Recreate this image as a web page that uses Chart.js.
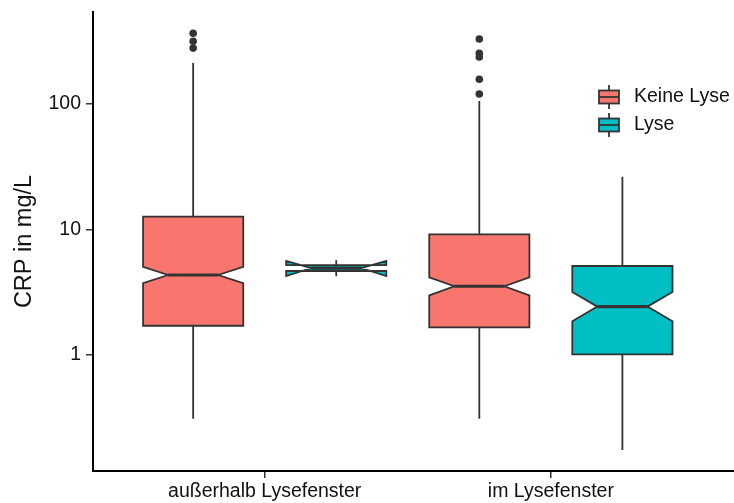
<!DOCTYPE html>
<html>
<head>
<meta charset="utf-8">
<script src="https://cdn.jsdelivr.net/npm/chart.js@4/dist/chart.umd.min.js"></script>
<style>
  html, body { margin: 0; padding: 0; background: #fff; }
  #c { display: block; }
</style>
</head>
<body>
<canvas id="c" width="734" height="503"></canvas>
<script>
// Categories on the x axis and the two groups drawn side by side in each
const categories = ['außerhalb Lysefenster', 'im Lysefenster'];
const seriesNames = ['Keine Lyse', 'Lyse'];
const seriesColors = ['#F8766D', '#00BFC4'];

// Per category: [whisker low, Q1, median, Q3, whisker high] in mg/L
const keineLyseBoxes = [[0.31, 1.71, 4.34, 12.65, 212], [0.31, 1.66, 3.53, 9.16, 105.7]];
const lyseBoxes = [[4.25, 4.67, 4.93, 5.21, 5.7], [0.175, 1.01, 2.43, 5.12, 26.35]];

// Notch limits around the median: [lower, upper]
const keineLyseNotches = [[3.73, 5.05], [2.99, 4.16]];
const lyseNotches = [[4.26, 5.61], [1.856, 3.18]];

// Values beyond the whiskers
const keineLyseOutliers = [[366, 316, 279], [329.6, 253.5, 236.8, 157.4, 120.1]];
const lyseOutliers = [[], []];

const yTicks = [1, 10, 100];

const FONT = '"Liberation Sans", Arial, Helvetica, sans-serif';
const INK = '#333333';
const DODGE = 0.25;      // group offset from category centre
const HALF_BOX = 0.175;  // half box width in category units
const NOTCH = 0.25;      // notch indent as share of box width

const series = [
  { name: seriesNames[0], color: seriesColors[0], boxes: keineLyseBoxes, notches: keineLyseNotches, outliers: keineLyseOutliers, offset: -DODGE },
  { name: seriesNames[1], color: seriesColors[1], boxes: lyseBoxes, notches: lyseNotches, outliers: lyseOutliers, offset: DODGE }
];

const datasets = series.map(s => ({
  label: s.name,
  data: s.outliers.flatMap((vals, i) => vals.map(v => ({ x: i + 1 + s.offset, y: v }))),
  pointRadius: 3.8,
  pointHoverRadius: 3.8,
  backgroundColor: INK,
  borderWidth: 0
}));

// Notched box-and-whisker marks, placed through the chart's scales
const notchedBoxes = {
  id: 'notchedBoxes',
  beforeDatasetsDraw(chart) {
    const { ctx, scales: { x, y } } = chart;
    series.forEach(s => s.boxes.forEach((b, i) => {
      const c = i + 1 + s.offset;
      const x0 = x.getPixelForValue(c - HALF_BOX);
      const x1 = x.getPixelForValue(c + HALF_BOX);
      const xc = x.getPixelForValue(c);
      const ind = (x1 - x0) * NOTCH;
      const [lo, q1, med, q3, hi] = b.map(v => y.getPixelForValue(v));
      const [nlo, nhi] = s.notches[i].map(v => y.getPixelForValue(v));

      ctx.save();
      ctx.strokeStyle = INK;
      ctx.lineWidth = 1.8;
      ctx.beginPath();
      ctx.moveTo(xc, hi); ctx.lineTo(xc, q3);
      ctx.moveTo(xc, q1); ctx.lineTo(xc, lo);
      ctx.stroke();

      ctx.beginPath();
      ctx.moveTo(x0, q3);
      ctx.lineTo(x0, nhi);
      ctx.lineTo(x0 + ind, med);
      ctx.lineTo(x0, nlo);
      ctx.lineTo(x0, q1);
      ctx.lineTo(x1, q1);
      ctx.lineTo(x1, nlo);
      ctx.lineTo(x1 - ind, med);
      ctx.lineTo(x1, nhi);
      ctx.lineTo(x1, q3);
      ctx.closePath();
      ctx.fillStyle = s.color;
      ctx.fill();
      ctx.lineJoin = 'miter';
      ctx.stroke();

      ctx.lineWidth = 3.2;
      ctx.beginPath();
      ctx.moveTo(x0 + ind, med);
      ctx.lineTo(x1 - ind, med);
      ctx.stroke();
      ctx.restore();
    }));
  }
};

// Legend with small box glyphs
const boxLegend = {
  id: 'boxLegend',
  afterDraw(chart) {
    const { ctx } = chart;
    const kx = 599, kw = 20, kh = 13, whisk = 12, textX = 634;
    series.forEach((s, i) => {
      const cy = 97 + i * 28;
      ctx.save();
      ctx.strokeStyle = INK;
      ctx.lineWidth = 1.8;
      ctx.beginPath();
      ctx.moveTo(kx + kw / 2, cy - whisk); ctx.lineTo(kx + kw / 2, cy + whisk);
      ctx.stroke();
      ctx.fillStyle = s.color;
      ctx.fillRect(kx, cy - kh / 2, kw, kh);
      ctx.strokeRect(kx, cy - kh / 2, kw, kh);
      ctx.beginPath();
      ctx.moveTo(kx, cy); ctx.lineTo(kx + kw, cy);
      ctx.stroke();
      ctx.fillStyle = '#111';
      ctx.font = '19.5px ' + FONT;
      ctx.textBaseline = 'middle';
      ctx.textAlign = 'left';
      ctx.fillText(s.name, textX, cy);
      ctx.restore();
    });
  }
};

const tickFont = { family: FONT, size: 19.5 };

new Chart(document.getElementById('c').getContext('2d'), {
  type: 'scatter',
  data: { datasets },
  options: {
    responsive: false,
    animation: false,
    devicePixelRatio: 1,
    layout: { autoPadding: false, padding: { top: 12, right: 0, bottom: 0, left: 0 } },
    plugins: { legend: { display: false }, tooltip: { enabled: false } },
    scales: {
      x: {
        type: 'linear',
        min: 0.4,
        max: 2.64,
        afterBuildTicks: sc => { sc.ticks = categories.map((_, i) => ({ value: i + 1 })); },
        afterFit: sc => { sc.height = 32; sc.paddingLeft = 0; sc.paddingRight = 0; },
        ticks: {
          callback: v => categories[v - 1],
          font: tickFont,
          color: '#111',
          padding: 2,
          autoSkip: false,
          maxRotation: 0
        },
        grid: { drawOnChartArea: false, drawTicks: true, tickLength: 7, color: INK, lineWidth: 1.5 },
        border: { display: true, color: '#000', width: 2 }
      },
      y: {
        type: 'logarithmic',
        min: 0.119,
        max: 541,
        afterBuildTicks: sc => { sc.ticks = yTicks.map(v => ({ value: v })); },
        afterFit: sc => { sc.width = 93; sc.paddingTop = 0; sc.paddingBottom = 0; },
        ticks: {
          callback: v => String(v),
          font: tickFont,
          color: '#111',
          padding: 5
        },
        grid: { drawOnChartArea: false, drawTicks: true, tickLength: 7, color: INK, lineWidth: 1.5 },
        border: { display: true, color: '#000', width: 2 },
        title: {
          display: true,
          text: 'CRP in mg/L',
          font: { family: FONT, size: 23.5 },
          color: '#111',
          padding: { top: 10, bottom: 0 }
        }
      }
    }
  },
  plugins: [notchedBoxes, boxLegend]
});
</script>
</body>
</html>
